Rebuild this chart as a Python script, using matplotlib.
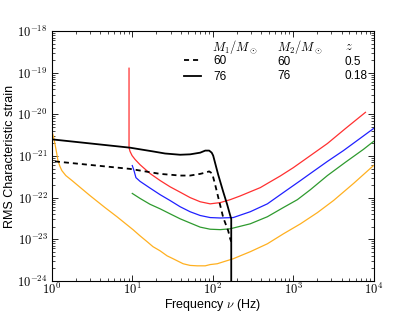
import numpy as np
import matplotlib
matplotlib.use('Agg')
import matplotlib.pyplot as plt
from matplotlib.ticker import FuncFormatter, LogLocator, NullFormatter

plt.rcParams['font.family'] = ['Liberation Sans', 'DejaVu Sans']
plt.rcParams['mathtext.fontset'] = 'cm'

# noise curves (freq in Hz, log10 of strain)
red_f = [9.11, 9.11, 9.38, 9.94, 10.8, 12.5, 16.6, 22.2, 29.5, 39.4, 52.4, 69.9, 93.0, 124,
         165, 220, 293, 391, 479, 693, 1007, 1641, 2672, 4478, 7946]
red_logh = [-18.89, -20.80, -20.89, -20.99, -21.08, -21.21, -21.42, -21.59, -21.74, -21.87,
            -22.00, -22.10, -22.15, -22.12, -22.05, -21.96, -21.86, -21.76, -21.66, -21.48,
            -21.28, -20.99, -20.70, -20.34, -19.95]

blue_f = [10.0, 10.5, 11.1, 12.5, 16.6, 22.2, 29.5, 39.4, 52.4, 69.9, 93.0, 124, 180, 293,
          479, 755, 1236, 1641, 2672, 4228, 6887, 10000]
blue_logh = [-21.23, -21.35, -21.52, -21.61, -21.77, -21.93, -22.07, -22.22, -22.34, -22.43,
             -22.48, -22.49, -22.48, -22.34, -22.15, -21.88, -21.59, -21.42, -21.13, -20.87,
             -20.57, -20.34]

green_f = [10.0, 12.5, 16.6, 22.2, 29.5, 39.4, 52.4, 69.9, 93.0, 124, 165, 293, 479, 755,
           1130, 1641, 2672, 4478, 7500, 10000]
green_logh = [-21.90, -22.02, -22.16, -22.27, -22.39, -22.51, -22.61, -22.71, -22.76, -22.77,
              -22.75, -22.63, -22.46, -22.24, -22.05, -21.81, -21.47, -21.15, -20.84, -20.65]

orange_f = [1.0, 1.06, 1.09, 1.15, 1.19, 1.26, 1.33, 1.49, 1.78, 2.11, 2.97, 4.58, 6.45, 10.2,
            12.5, 15.3, 18.1, 22.2, 27.1, 32.2, 42.9, 52.3, 64.1, 80.8, 93.0, 114, 143, 180,
            220, 294, 479, 759, 1236, 2009, 3184, 5645, 10000]
orange_logh = [-20.39, -20.58, -20.70, -20.94, -21.11, -21.25, -21.35, -21.47, -21.59, -21.71,
               -21.95, -22.24, -22.46, -22.77, -22.92, -23.06, -23.18, -23.28, -23.40, -23.47,
               -23.59, -23.63, -23.64, -23.64, -23.61, -23.59, -23.53, -23.47, -23.40, -23.30,
               -23.11, -22.87, -22.63, -22.36, -22.07, -21.66, -21.23]

# binary signals
bbh60_f = [1.09, 9.38, 22.2, 39.4, 52.4, 69.9, 80.8, 90.4, 98.6, 107.4, 117.1, 135.2, 156,
           165.2, 170.1]
bbh60_logh = [-21.13, -21.31, -21.43, -21.47, -21.47, -21.43, -21.40, -21.37, -21.42, -21.69,
              -21.99, -22.48, -22.80, -22.99, -23.06]

bbh76_f = [1.0, 9.38, 18.1, 25.6, 39.4, 52.4, 69.9, 80.8, 90.4, 97.2, 101.4, 117.1, 135.2,
           151.6, 165.2, 170.1, 170.1]
bbh76_logh = [-20.60, -20.80, -20.89, -20.94, -20.97, -20.96, -20.92, -20.87, -20.87, -20.92,
              -20.99, -21.45, -21.86, -22.17, -22.43, -22.51, -25.0]

m1 = ['60', '76']
m2 = ['60', '76']
zs = ['0.5', '0.18']

fig = plt.figure(figsize=(4.15, 3.12), dpi=100)
ax = fig.add_axes([0.125, 0.1, 0.775, 0.8])

ax.plot(red_f, 10**np.array(red_logh), color='#ff3030', lw=0.9)
ax.plot(blue_f, 10**np.array(blue_logh), color='#2020ff', lw=0.9)
ax.plot(green_f, 10**np.array(green_logh), color='#2e9a2e', lw=0.9)
ax.plot(orange_f, 10**np.array(orange_logh), color='#ffb020', lw=0.9)
l1, = ax.plot(bbh60_f, 10**np.array(bbh60_logh), color='k', lw=1.3, ls=(0, (2.8, 2.2)))
l2, = ax.plot(bbh76_f, 10**np.array(bbh76_logh), color='k', lw=1.3)

ax.set_xscale('log')
ax.set_yscale('log')
ax.set_xlim(1, 1e4)
ax.set_ylim(1e-24, 1e-18)

fmt = FuncFormatter(lambda v, p: r'$10^{%d}$' % int(round(np.log10(v))))
ax.xaxis.set_major_formatter(fmt)
ax.yaxis.set_major_formatter(fmt)
ax.xaxis.set_minor_formatter(NullFormatter())
ax.yaxis.set_minor_formatter(NullFormatter())
ax.yaxis.set_major_locator(LogLocator(base=10, numticks=10))
ax.yaxis.set_minor_locator(LogLocator(base=10, subs=np.arange(2, 10), numticks=20))
ax.tick_params(which='both', direction='in', top=True, right=True, labelsize=9)
ax.tick_params(which='major', length=4, width=0.6)
ax.tick_params(which='minor', length=2, width=0.5)
ax.tick_params(axis='x', pad=1)
ax.tick_params(axis='y', pad=3)

ax.set_xlabel(r'Frequency $\nu$ (Hz)', fontsize=9)
ax.xaxis.set_label_coords(0.5, -0.066)
ax.set_ylabel('RMS Characteristic strain', fontsize=9, labelpad=1)

leg = ax.legend([l1, l2], m1, loc='upper left', bbox_to_anchor=(0.41, 0.905),
                frameon=False, fontsize=8.5, handlelength=1.5, handletextpad=1.0,
                labelspacing=0.35, borderpad=0, borderaxespad=0)

ax.text(0.498, 0.936, r'$M_1/M_\odot$', transform=ax.transAxes, fontsize=9, va='center')
ax.text(0.701, 0.936, r'$M_2/M_\odot$', transform=ax.transAxes, fontsize=9, va='center')
ax.text(0.910, 0.936, r'$z$', transform=ax.transAxes, fontsize=9, va='center')
for i in range(2):
    ax.text(0.701, 0.876 - 0.057 * i, m2[i], transform=ax.transAxes, fontsize=8.5, va='center')
    ax.text(0.910, 0.876 - 0.057 * i, zs[i], transform=ax.transAxes, fontsize=8.5, va='center')

fig.savefig('out.png', dpi=100)
